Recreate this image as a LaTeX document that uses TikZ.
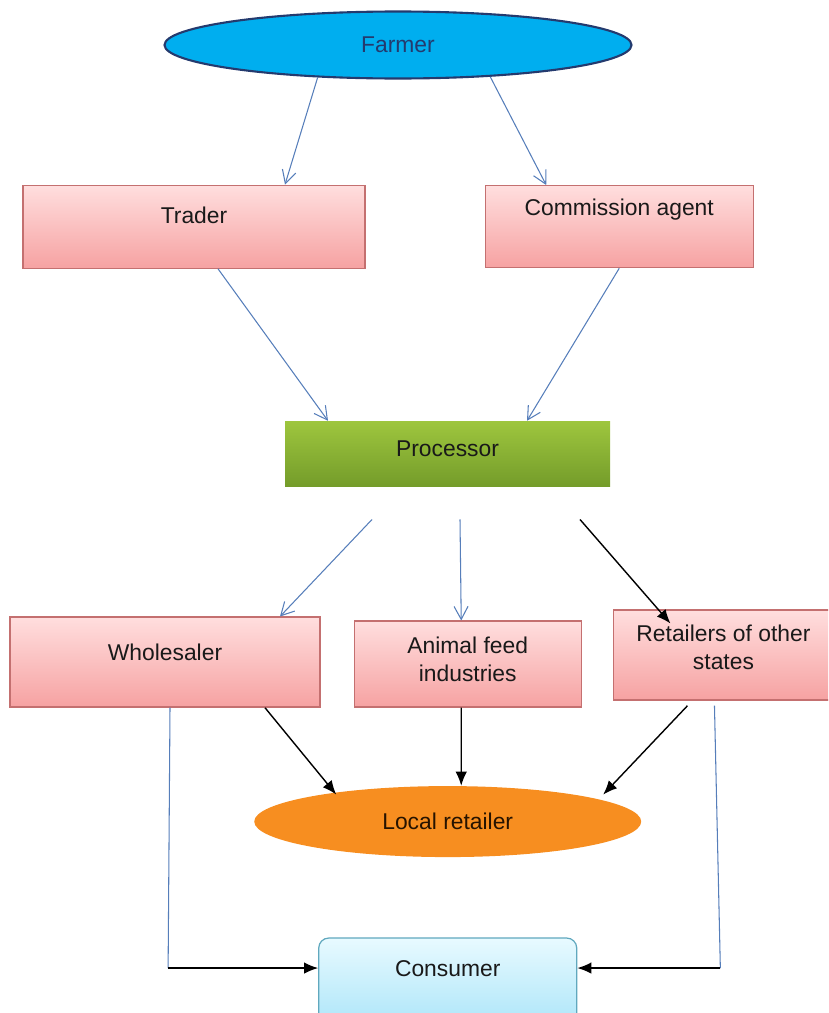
\documentclass[tikz,border=0pt]{standalone}
\usepackage{fontspec}
\setmainfont{Liberation Sans}
\usetikzlibrary{positioning, calc, arrows.meta, shapes.geometric}
\definecolor{flowblue}{RGB}{86,126,186}
\definecolor{farmerfill}{RGB}{0,174,239}
\definecolor{farmeredge}{RGB}{36,58,110}
\definecolor{pinktop}{RGB}{255,222,222}
\definecolor{pinkbot}{RGB}{246,162,162}
\definecolor{pinkedge}{RGB}{196,112,112}
\definecolor{greentop}{RGB}{158,198,62}
\definecolor{greenbot}{RGB}{116,156,42}
\definecolor{orangefill}{RGB}{247,142,32}
\definecolor{cyantop}{RGB}{232,250,255}
\definecolor{cyanbot}{RGB}{168,228,248}
\definecolor{cyanedge}{RGB}{96,168,190}
\tikzset{
    pinkbox/.style={draw=pinkedge, line width=0.7pt, top color=pinktop, bottom color=pinkbot, align=center},
    greenbox/.style={top color=greentop, bottom color=greenbot, minimum width=6.5cm, minimum height=1.3cm},
    blueellipse/.style={draw=farmeredge, line width=1.2pt, fill=farmerfill, ellipse, minimum width=9.34cm, minimum height=1.34cm, text=farmeredge},
    orangeellipse/.style={fill=orangefill, ellipse, minimum width=7.74cm, minimum height=1.42cm, text=black!85!orange},
    cyanbox/.style={draw=cyanedge, line width=0.7pt, rounded corners=0.2cm, top color=cyantop, bottom color=cyanbot, minimum width=5.16cm, minimum height=1.9cm},
    bluearrow/.style={draw=flowblue, line width=0.6pt, -{Straight Barb[length=2.6mm, width=2.8mm]}},
    blueline/.style={draw=flowblue, line width=0.6pt},
    blackarrow/.style={draw=black, line width=0.8pt, -{Latex[length=2.8mm, width=2.3mm]}}
}
\begin{document}
\begin{tikzpicture}[font=\fontsize{13}{15.5}\selectfont, text=black!90, node distance=1cm]
	\useasboundingbox (0,0) rectangle (16.56,-20.26);
	\clip (0,0) rectangle (16.56,-20.26);
	\node(Farmer)[blueellipse] at (7.96,-0.9) {Farmer};
	\node(Trader)[pinkbox, below=2.1cm of Farmer, xshift=-4.08cm, minimum width=6.84cm, minimum height=1.66cm, text depth=0.46cm]{Trader};
	\node(Agent)[pinkbox, right=2.38cm of Trader, minimum width=5.36cm, minimum height=1.64cm, text depth=0.76cm]{Commission agent};
	\node(Processor)[greenbox, below=3.04cm of Trader, xshift=5.07cm, text depth=0.22cm]{Processor};
	\node(Wholesaler)[pinkbox, below=2.6cm of Processor, xshift=-5.65cm, minimum width=6.2cm, minimum height=1.8cm, text depth=0.4cm]{Wholesaler};
	\node(Feed)[pinkbox, right=0.66cm of Wholesaler, yshift=-0.04cm, minimum width=4.54cm, minimum height=1.72cm, text depth=0.2cm]{Animal feed\\industries};
	\node(Retailers)[pinkbox, right=0.62cm of Wholesaler.east -| Feed.east, yshift=0.14cm, minimum width=4.4cm, minimum height=1.8cm, text depth=0.32cm]{Retailers of other\\states};
	\node(Local)[orangeellipse, below=1.56cm of Feed, xshift=-0.4cm]{Local retailer};
	\node(Consumer)[cyanbox, below=1.6cm of Local, text depth=0.7cm]{Consumer};
	\coordinate (OutA) at ($(Processor.south)+(-1.51,-0.66)$);
	\coordinate (OutB) at ($(Processor.south)+(0.25,-0.66)$);
	\coordinate (OutC) at ($(Processor.south)+(2.65,-0.66)$);
	\coordinate (DropL) at ($(Consumer.west)+(-3.0,0.35)$);
	\coordinate (DropR) at ($(Consumer.east)+(2.86,0.35)$);
	\draw[bluearrow](Farmer.202)--($(Trader.north)+(1.82,0)$);
	\draw[bluearrow](Farmer.341)--($(Agent.north)+(-1.46,0)$);
	\draw[bluearrow]($(Trader.south)+(0.48,0)$)--($(Processor.north)+(-2.39,0)$);
	\draw[bluearrow](Agent.south)--($(Processor.north)+(1.59,0)$);
	\draw[bluearrow](OutA)--($(Wholesaler.north)+(2.3,0)$);
	\draw[bluearrow](OutB)--($(Feed.north)+(-0.13,0)$);
	\draw[blackarrow](OutC)--($(Retailers.north)+(-1.06,-0.28)$);
	\draw[blackarrow]($(Wholesaler.south)+(2.0,0)$)--($(Local.center)+(-2.23,0.54)$);
	\draw[blackarrow]($(Feed.south)+(-0.13,0)$)--($(Local.north)+(0.27,0)$);
	\draw[blackarrow]($(Retailers.south)+(-0.72,-0.1)$)--($(Local.center)+(3.11,0.54)$);
	\draw[blueline]($(Wholesaler.south)+(0.1,0)$)--(DropL);
	\draw[blackarrow](DropL)--($(Consumer.west)+(0,0.35)$);
	\draw[blueline]($(Retailers.south)+(-0.18,-0.1)$)--(DropR);
	\draw[blackarrow](DropR)--($(Consumer.east)+(0,0.35)$);
\end{tikzpicture}
\end{document}
